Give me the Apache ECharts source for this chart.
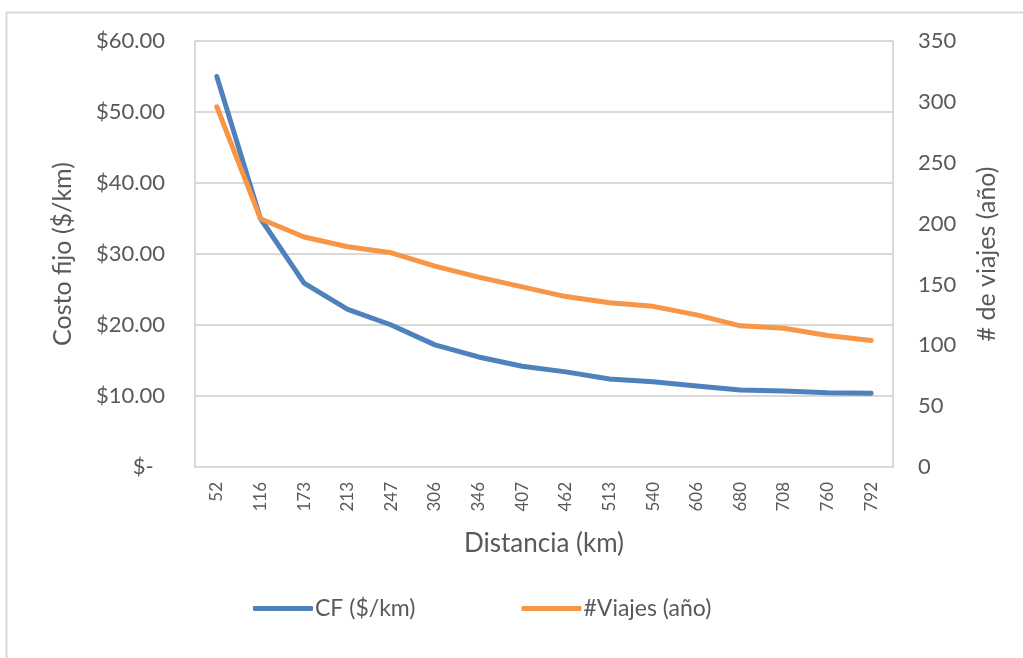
<!DOCTYPE html>
<html>
<head>
<meta charset="utf-8">
<script src="https://cdn.jsdelivr.net/npm/echarts@6/dist/echarts.min.js"></script>
<style>
  html, body { margin: 0; padding: 0; background: #ffffff; }
  #chart { width: 1023px; height: 658px; }
</style>
</head>
<body>
<div id="chart"></div>
<script>
// Distance categories (km)
const distancias = ['52', '116', '173', '213', '247', '306', '346', '407', '462', '513', '540', '606', '680', '708', '760', '792'];
// Fixed cost per km ($/km)
const costoFijo = [55.0, 35.0, 25.9, 22.2, 20.0, 17.2, 15.5, 14.2, 13.4, 12.4, 12.0, 11.4, 10.85, 10.7, 10.47, 10.38];
// Trips per year
const viajes = [296, 204, 189, 181, 176, 165, 156, 148, 140, 135, 132, 125, 116, 114, 108, 104];

const gris = '#595959';
const lineaGris = '#d9d9d9';
const fuente = 'Lato';

const chart = echarts.init(document.getElementById('chart'), null, { renderer: 'canvas' });

chart.setOption({
  backgroundColor: '#ffffff',
  animation: false,
  textStyle: { fontFamily: fuente, color: gris },
  graphic: [{
    type: 'rect',
    left: 4, top: 10,
    shape: { width: 1040, height: 700 },
    style: { fill: 'none', stroke: lineaGris, lineWidth: 2 },
    silent: true
  }],
  grid: { left: 195, right: 130, top: 41, bottom: 191, containLabel: false },
  legend: {
    left: 248,
    top: 592,
    itemWidth: 60,
    itemHeight: 5,
    itemGap: 106,
    icon: 'roundRect',
    textStyle: { fontFamily: fuente, fontSize: 23, color: gris, padding: [0, 0, 0, -3] },
    data: ['CF ($/km)', '#Viajes (año)']
  },
  xAxis: {
    type: 'category',
    data: distancias,
    boundaryGap: true,
    name: 'Distancia (km)',
    nameLocation: 'middle',
    nameGap: 64,
    nameTextStyle: { fontFamily: fuente, fontSize: 26, color: gris },
    axisLine: { show: true, lineStyle: { color: lineaGris, width: 2 } },
    axisTick: { show: false },
    axisLabel: { rotate: 90, margin: 15, fontFamily: fuente, fontSize: 17, color: gris, interval: 0 },
    splitLine: { show: false }
  },
  yAxis: [{
    type: 'value',
    min: 0, max: 60, interval: 10,
    position: 'left',
    name: 'Costo fijo ($/km)',
    nameLocation: 'middle',
    nameGap: 120,
    nameRotate: 90,
    nameTextStyle: { fontFamily: fuente, fontSize: 25, color: gris },
    axisLine: { show: true, lineStyle: { color: lineaGris, width: 2 } },
    axisTick: { show: false },
    axisLabel: {
      margin: 30, fontFamily: fuente, fontSize: 22, color: gris,
      formatter: v => v === 0 ? '$-  ' : '$' + v.toFixed(2)
    },
    splitLine: { show: true, lineStyle: { color: lineaGris, width: 2 } }
  }, {
    type: 'value',
    min: 0, max: 350, interval: 50,
    position: 'right',
    name: '# de viajes (año)',
    nameLocation: 'middle',
    nameGap: 81,
    nameRotate: 90,
    nameTextStyle: { fontFamily: fuente, fontSize: 25, color: gris },
    axisLine: { show: true, lineStyle: { color: lineaGris, width: 2 } },
    axisTick: { show: false },
    axisLabel: { margin: 25, fontFamily: fuente, fontSize: 22, color: gris },
    splitLine: { show: false }
  }],
  series: [{
    name: 'CF ($/km)',
    type: 'line',
    yAxisIndex: 0,
    data: costoFijo,
    showSymbol: false,
    symbol: 'none',
    color: '#4f81bd',
    lineStyle: { width: 5, color: '#4f81bd', cap: 'round', join: 'round' }
  }, {
    name: '#Viajes (año)',
    type: 'line',
    yAxisIndex: 1,
    data: viajes,
    showSymbol: false,
    symbol: 'none',
    color: '#f79646',
    lineStyle: { width: 5, color: '#f79646', cap: 'round', join: 'round' }
  }]
});
</script>
</body>
</html>
